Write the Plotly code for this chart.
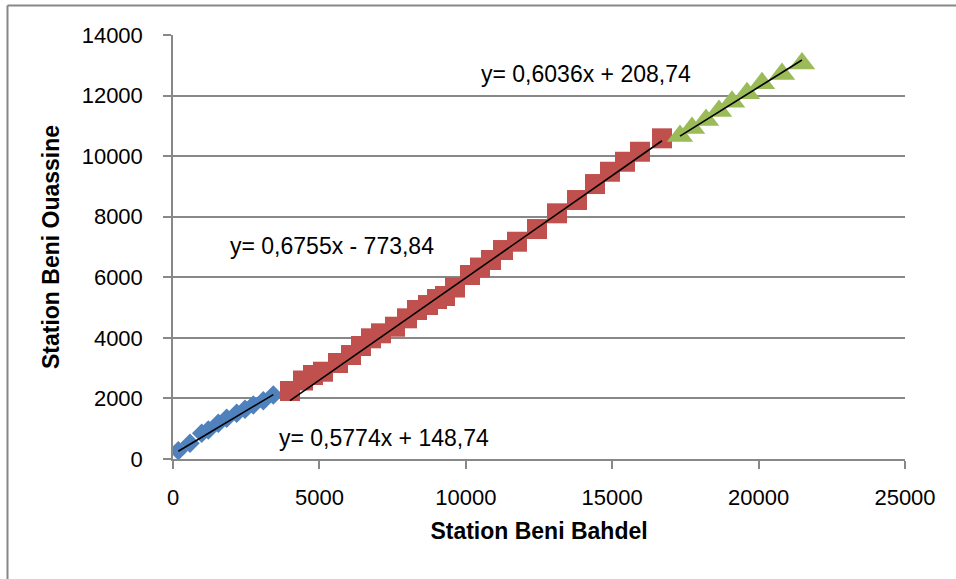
import plotly.graph_objects as go

# ---- data ----
blue_x = [182, 581, 979, 1207, 1548, 1833, 2175, 2459, 2743, 3085, 3426]
blue_y = [275, 517, 847, 957, 1178, 1343, 1508, 1640, 1783, 1925, 2113]

red_x = [3996, 4440, 4781, 5123, 5635, 6079, 6421, 6762, 7104, 7582, 7992, 8333,
         8709, 9016, 9290, 9631, 10143, 10485, 10861, 11270, 11749, 12432, 13115,
         13798, 14413, 14925, 15437, 15949, 16701]
red_y = [2245, 2592, 2773, 2882, 3169, 3433, 3731, 3985, 4150, 4368, 4645, 4919,
         5084, 5282, 5381, 5662, 6075, 6322, 6570, 6900, 7174, 7593, 8112,
         8551, 9079, 9485, 9815, 10145, 10588]

green_x = [17316, 17725, 18204, 18648, 19092, 19604, 20116, 20799, 21482]
green_y = [10664, 10928, 11192, 11489, 11796, 12073, 12403, 12711, 13060]

# trendline equations (slope, intercept) as labelled
slopes = [0.5774, 0.6755, 0.6036]
intercepts = [148.74, -773.84, 208.74]
eq_labels = ["y= 0,5774x + 148,74", "y= 0,6755x - 773,84", "y= 0,6036x + 208,74"]

x_ticks = [0, 5000, 10000, 15000, 20000, 25000]
y_ticks = [0, 2000, 4000, 6000, 8000, 10000, 12000, 14000]

FONT = "Liberation Sans, Arial, sans-serif"
GRID = "#888888"

fig = go.Figure()
series = [
    (blue_x, blue_y, "#4F81BD", "diamond", 15),
    (red_x, red_y, "#C0504D", "square", 20),
    (green_x, green_y, "#9BBB59", "triangle-up", 23),
]
for xs, ys, col, sym, sz in series:
    fig.add_trace(go.Scatter(x=xs, y=ys, mode="markers",
                             marker=dict(color=col, symbol=sym, size=sz, line=dict(width=0)),
                             showlegend=False, hoverinfo="skip"))

for (xs, ys, _, _, _), a, b in zip(series, slopes, intercepts):
    x0, x1 = min(xs), max(xs)
    fig.add_trace(go.Scatter(x=[x0, x1], y=[a * x0 + b, a * x1 + b], mode="lines",
                             line=dict(color="black", width=1.6),
                             showlegend=False, hoverinfo="skip"))

# equation labels
label_pos = [(3552, 700), (1878, 7040), (10460, 12720)]
for (lx, ly), txt in zip(label_pos, eq_labels):
    fig.add_annotation(x=lx, y=ly, xref="x", yref="y", text=txt, showarrow=False,
                       xanchor="left", yanchor="middle",
                       font=dict(family=FONT, size=23, color="black"))

# outer chart border (left and top edges visible)
fig.add_shape(type="line", xref="paper", yref="paper", x0=-0.2261, x1=-0.2261,
              y0=1.0696, y1=-0.35, line=dict(color="#878787", width=2))
fig.add_shape(type="line", xref="paper", yref="paper", x0=-0.2261, x1=1.1,
              y0=1.0696, y1=1.0696, line=dict(color="#878787", width=2))

fig.update_layout(
    width=956, height=579,
    margin=dict(l=173, r=51, t=35, b=120),
    paper_bgcolor="white", plot_bgcolor="white",
    font=dict(family=FONT, color="black"),
    xaxis=dict(range=[0, 25000], tickvals=x_ticks, ticktext=[str(v) for v in x_ticks],
               showgrid=False, zeroline=False, showline=True, linecolor=GRID, linewidth=1.5,
               ticks="outside", ticklen=8, tickcolor=GRID, tickwidth=1.5,
               tickfont=dict(size=22), ticklabelstandoff=10,
               title=dict(text="<b>Station Beni Bahdel</b>", font=dict(size=23), standoff=14)),
    yaxis=dict(range=[0, 14000], tickvals=y_ticks, ticktext=[str(v) for v in y_ticks],
               showgrid=True, gridcolor=GRID, gridwidth=1.5, zeroline=False,
               showline=True, linecolor=GRID, linewidth=1.5,
               ticks="outside", ticklen=8, tickcolor=GRID, tickwidth=1.5,
               tickfont=dict(size=22), ticklabelstandoff=16,
               title=dict(text="<b>Station Beni Ouassine</b>", font=dict(size=23), standoff=16)),
)

fig.write_html("out.html")
